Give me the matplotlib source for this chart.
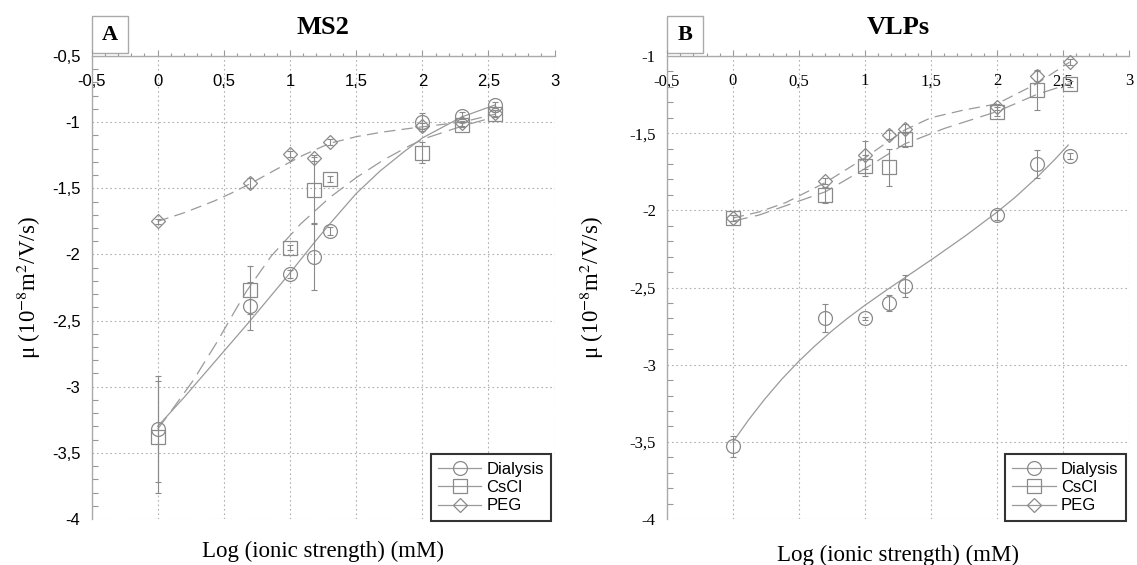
import numpy as np
import matplotlib
matplotlib.use("Agg")
import matplotlib.pyplot as plt
from matplotlib.lines import Line2D
from matplotlib.patches import Rectangle
from matplotlib.ticker import MultipleLocator, FixedLocator

plt.rcParams['mathtext.fontset'] = 'stix'

# log ionic strength (mM)
x_pts = [0, 0.7, 1.0, 1.18, 1.3, 2.0, 2.3, 2.55]

# panel A: MS2 (measured mobilities and error bars)
ms2_dialysis = [-3.32, -2.39, -2.15, -2.02, -1.82, -1.00, -0.95, -0.87]
ms2_dialysis_err = [0.40, 0.18, 0.03, 0.25, 0.03, 0.07, 0.03, 0.02]
ms2_cscl = [-3.38, -2.27, -1.95, -1.51, -1.43, -1.23, -1.02, -0.94]
ms2_cscl_err = [0.42, 0.18, 0.02, 0.25, 0.02, 0.08, 0.02, 0.02]
ms2_peg = [-1.75, -1.46, -1.24, -1.27, -1.15, -1.03, -1.01, -0.93]
ms2_peg_err = [0.02, 0.04, 0.02, 0.02, 0.02, 0.02, 0.02, 0.02]

# panel A fitted curves
ms2_fit_dialysis_x = [0, 0.2, 0.45, 0.7, 1.0, 1.2, 1.3, 1.5, 1.68, 1.86, 2.0, 2.3, 2.55]
ms2_fit_dialysis_y = [-3.30, -3.08, -2.79, -2.50, -2.14, -1.89, -1.77, -1.54, -1.37,
                      -1.225, -1.12, -0.96, -0.87]
ms2_fit_cscl_x = [0, 0.09, 0.27, 0.45, 0.57, 0.67, 0.86, 1.08, 1.3, 1.5, 1.7, 1.9, 2.03, 2.3, 2.55]
ms2_fit_cscl_y = [-3.32, -3.20, -2.95, -2.66, -2.45, -2.28, -2.01, -1.77, -1.57, -1.42,
                  -1.29, -1.18, -1.12, -1.03, -0.96]
ms2_fit_peg_x = [0, 0.2, 0.43, 0.55, 0.7, 0.9, 1.1, 1.3, 1.5, 1.7, 1.96, 2.3, 2.55]
ms2_fit_peg_y = [-1.75, -1.685, -1.595, -1.54, -1.465, -1.355, -1.25, -1.16, -1.11,
                 -1.075, -1.04, -1.00, -0.94]

# panel B: VLPs
vlp_dialysis = [-3.53, -2.70, -2.70, -2.60, -2.49, -2.03, -1.70, -1.65]
vlp_dialysis_err = [0.07, 0.09, 0.01, 0.05, 0.07, 0.03, 0.09, 0.02]
vlp_cscl = [-2.05, -1.90, -1.71, -1.72, -1.54, -1.36, -1.22, -1.18]
vlp_cscl_err = [0.02, 0.05, 0.07, 0.12, 0.05, 0.03, 0.13, 0.02]
vlp_peg = [-2.05, -1.81, -1.64, -1.51, -1.47, -1.33, -1.13, -1.04]
vlp_peg_err = [0.02, 0.02, 0.09, 0.03, 0.03, 0.02, 0.03, 0.02]

vlp_fit_dialysis_x = [0, 0.12, 0.24, 0.37, 0.5, 0.62, 0.75, 0.87, 1.0, 1.17, 1.3,
                      1.51, 1.76, 2.0, 2.14, 2.3, 2.44, 2.54]
vlp_fit_dialysis_y = [-3.50, -3.356, -3.224, -3.094, -2.977, -2.879, -2.781, -2.698,
                      -2.615, -2.513, -2.438, -2.316, -2.166, -2.012, -1.914, -1.789,
                      -1.669, -1.577]
vlp_fit_cscl_x = [0, 0.2, 0.4, 0.7, 1.0, 1.3, 1.6, 2.0, 2.3, 2.55]
vlp_fit_cscl_y = [-2.07, -2.03, -1.97, -1.88, -1.73, -1.57, -1.47, -1.36, -1.25, -1.18]
vlp_fit_peg_x = [0, 0.2, 0.4, 0.7, 1.0, 1.3, 1.5, 1.75, 2.0, 2.3, 2.55]
vlp_fit_peg_y = [-2.05, -2.01, -1.95, -1.82, -1.66, -1.48, -1.40, -1.35, -1.31, -1.18, -1.04]

x_ticks = [-0.5, 0, 0.5, 1, 1.5, 2, 2.5, 3]
x_ticklabels = ['-0,5', '0', '0,5', '1', '1,5', '2', '2,5', '3']
ms2_yticks = [-4, -3.5, -3, -2.5, -2, -1.5, -1, -0.5]
ms2_yticklabels = ['-4', '-3,5', '-3', '-2,5', '-2', '-1,5', '-1', '-0,5']
vlp_yticks = [-4, -3.5, -3, -2.5, -2, -1.5, -1]
vlp_yticklabels = ['-4', '-3,5', '-3', '-2,5', '-2', '-1,5', '-1']

LINE = '#9a9a9a'
MARK = '#8a8a8a'
SERIF = 'Liberation Serif'
SANS = 'Liberation Sans'


def draw_panel(ax, series, fits, yticks, yticklabels, letter, title, tickfont, ticksize):
    ax.set_xlim(-0.5, 3)
    ax.set_ylim(yticks[0], yticks[-1])

    styles = [('o', '-', 10), ('s', (0, (12, 6)), 10), ('D', (0, (9, 5)), 7)]
    for (fx, fy), (_, ls, _) in zip(fits, styles):
        ax.plot(fx, fy, color=LINE, lw=0.9, ls=ls, zorder=2)
    for (y, err), (m, _, ms) in zip(series, styles):
        ax.errorbar(x_pts, y, yerr=err, fmt='none', ecolor=MARK, elinewidth=0.8,
                    capsize=2.5, capthick=0.8, zorder=3)
        ax.plot(x_pts, y, ls='none', marker=m, ms=ms, mfc='none', mec=MARK,
                mew=0.9, zorder=4, clip_on=False)

    ax.xaxis.set_major_locator(FixedLocator(x_ticks))
    ax.set_xticklabels(x_ticklabels, fontfamily=tickfont, fontsize=ticksize)
    ax.xaxis.set_minor_locator(MultipleLocator(0.1))
    ax.yaxis.set_major_locator(FixedLocator(yticks))
    ax.set_yticklabels(yticklabels, fontfamily=tickfont, fontsize=ticksize)
    ax.yaxis.set_minor_locator(MultipleLocator(0.1))

    ax.xaxis.tick_top()
    ax.tick_params(axis='x', which='both', direction='out', color='#999999',
                   width=0.8, pad=-28)
    ax.tick_params(axis='x', which='major', length=4)
    ax.tick_params(axis='x', which='minor', length=2)
    ax.tick_params(axis='y', which='both', direction='in', color='#999999',
                   width=0.8, pad=8)
    ax.tick_params(axis='y', which='major', length=0)
    ax.tick_params(axis='y', which='minor', length=4)

    ax.grid(True, which='major', color='#b0b0b0', lw=0.8, ls=(0, (1.5, 2.5)))
    for s in ['right', 'bottom']:
        ax.spines[s].set_visible(False)
    for s in ['left', 'top']:
        ax.spines[s].set_color('#aaaaaa')
        ax.spines[s].set_linewidth(1.0)

    ax.set_title(title, fontfamily=SERIF, fontweight='bold', fontsize=19, pad=16)
    ax.add_patch(Rectangle((0, 1.007), 0.078, 0.079, transform=ax.transAxes,
                           fill=False, ec='#aaaaaa', lw=1.0, clip_on=False))
    ax.text(0.039, 1.046, letter, transform=ax.transAxes, ha='center', va='center',
            fontfamily=SERIF, fontweight='bold', fontsize=16)

    ax.set_xlabel('Log (ionic strength) (mM)', fontfamily=SERIF, fontsize=16.5)
    ax.set_ylabel(r'μ (10$^{-8}$m$^{2}$/V/s)', fontfamily=SERIF, fontsize=16.5)

    handles = [Line2D([], [], color=LINE, lw=0.9, marker=m, ms=ms, mfc='none',
                      mec=MARK, mew=0.9) for (m, _, ms) in styles]
    leg = ax.legend(handles, ['Dialysis', 'CsCl', 'PEG'], loc='lower right',
                    bbox_to_anchor=(0.993, -0.004), borderaxespad=0.0,
                    fancybox=False, framealpha=1, edgecolor='#333333',
                    prop={'family': SANS, 'size': 12}, handlelength=2.6,
                    handletextpad=0.3, labelspacing=0.2, borderpad=0.45)
    leg.get_frame().set_linewidth(1.5)


fig = plt.figure(figsize=(11.37, 5.65), dpi=100)
ax1 = fig.add_axes([0.0805, 0.0814, 0.4073, 0.8195])
ax2 = fig.add_axes([0.5866, 0.0814, 0.4063, 0.8195])

draw_panel(ax1,
           [(ms2_dialysis, ms2_dialysis_err), (ms2_cscl, ms2_cscl_err), (ms2_peg, ms2_peg_err)],
           [(ms2_fit_dialysis_x, ms2_fit_dialysis_y), (ms2_fit_cscl_x, ms2_fit_cscl_y),
            (ms2_fit_peg_x, ms2_fit_peg_y)],
           ms2_yticks, ms2_yticklabels, 'A', 'MS2', SANS, 12)
draw_panel(ax2,
           [(vlp_dialysis, vlp_dialysis_err), (vlp_cscl, vlp_cscl_err), (vlp_peg, vlp_peg_err)],
           [(vlp_fit_dialysis_x, vlp_fit_dialysis_y), (vlp_fit_cscl_x, vlp_fit_cscl_y),
            (vlp_fit_peg_x, vlp_fit_peg_y)],
           vlp_yticks, vlp_yticklabels, 'B', 'VLPs', SERIF, 12)

ax1.xaxis.set_label_coords(0.5, -0.047)
ax2.xaxis.set_label_coords(0.5, -0.056)
ax1.yaxis.set_label_coords(-0.105, 0.5)
ax2.yaxis.set_label_coords(-0.132, 0.5)

fig.savefig('out.png', dpi=100)
